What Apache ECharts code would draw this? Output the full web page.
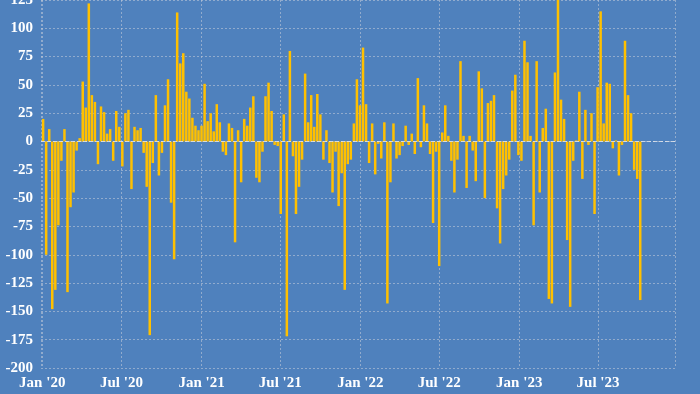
<!DOCTYPE html>
<html>
<head>
<meta charset="utf-8">
<script src="https://cdn.jsdelivr.net/npm/echarts@6/dist/echarts.min.js"></script>
<style>
html,body{margin:0;padding:0;background:#4f81bd;}
#chart{width:700px;height:394px;}
</style>
</head>
<body>
<div id="chart"></div>
<script>
// Weekly series start date and tick settings
var startDate = '2020-01-03';
var yTicks = [-200, -175, -150, -125, -100, -75, -50, -25, 0, 25, 50, 75, 100, 125];
var values = [
  20, -100, 11, -148, -131, -74, -17, 11, -133, -58,
  -45, -8, 3, 53, 30, 122, 41, 35, -20, 31,
  26, 7, 11, -17, 27, 13, -22, 25, 28, -42,
  13, 10, 12, -10, -40, -171, -19, 41, -30, -10,
  32, 55, -54, -104, 114, 69, 78, 44, 38, 21,
  14, 10, 14, 51, 18, 25, 9, 33, 17, -9,
  -12, 16, 12, -89, 10, -36, 20, 14, 30, 40,
  -32, -36, -9, 40, 52, 27, -3, -4, -64, 24,
  -172, 80, -13, -64, -40, -16, 60, 17, 41, 13,
  42, 24, -16, 10, -19, -45, -9, -57, -28, -131,
  -20, -16, 16, 55, 32, 83, 33, -19, 16, -29,
  -2, -15, 17, -143, -36, 16, -15, -12, -4, 14,
  -3, 7, -11, 56, -5, 32, 16, -11, -72, -9,
  -110, 8, 32, 5, -17, -45, -16, 71, 5, -41,
  5, -8, -35, 62, 47, -50, 34, 36, 41, -59,
  -90, -42, -30, -16, 45, 59, -12, -17, 89, 70,
  5, -74, 71, -45, 12, 29, -139, -143, 61, 128,
  37, 20, -87, -146, -17, 1, 44, -33, 28, -3,
  25, -64, 48, 115, 16, 52, 51, -6, 1, -30,
  -3, 89, 41, 25, -25, -33, -140
];
var monthNames = ['Jan','Feb','Mar','Apr','May','Jun','Jul','Aug','Sep','Oct','Nov','Dec'];

var DAY = 24 * 3600 * 1000;
var t0 = Date.parse(startDate + 'T00:00:00Z');
var data = values.map(function (v, i) { return [t0 + i * 7 * DAY, v]; });

var chart = echarts.init(document.getElementById('chart'));
var fontFam = '"Liberation Serif", "DejaVu Serif", serif';
var gridLine = { color: 'rgba(190,200,215,0.6)', type: [2, 2], width: 1 };
chart.setOption({
  backgroundColor: '#4f81bd',
  animation: false,
  grid: { left: 41, right: 25, top: 0, bottom: 26, containLabel: false, outerBoundsMode: 'none' },
  xAxis: {
    type: 'time',
    min: Date.parse('2020-01-01T00:00:00Z'),
    max: Date.parse('2023-12-22T00:00:00Z'),
    minInterval: 180 * DAY,
    maxInterval: 185 * DAY,
    splitNumber: 8,
    axisLine: { show: false },
    axisTick: { show: false },
    axisLabel: {
      color: '#ffffff', fontFamily: fontFam, fontWeight: 'bold', fontSize: 15,
      margin: 8,
      formatter: function (val) {
        var d = new Date(val);
        var m = d.getUTCMonth();
        var y = String(d.getUTCFullYear()).slice(2);
        if (d.getUTCDate() !== 1 || (m !== 0 && m !== 6)) return '';
        return monthNames[m] + " '" + y;
      }
    },
    splitLine: { show: true, lineStyle: gridLine }
  },
  yAxis: {
    type: 'value',
    min: -200, max: 125, interval: 25,
    axisLine: { show: false },
    axisTick: { show: false },
    axisLabel: {
      color: '#ffffff', fontFamily: fontFam, fontWeight: 'bold', fontSize: 15, margin: 8
    },
    splitLine: { show: true, lineStyle: gridLine }
  },
  series: [{
    type: 'bar',
    data: data,
    barWidth: 2.5,
    itemStyle: { color: '#ffc000' },
    markLine: {
      silent: true,
      symbol: 'none',
      label: { show: false },
      lineStyle: { color: 'rgba(225,228,235,0.85)', type: [4, 2], width: 1 },
      data: [{ yAxis: 0 }]
    }
  }]
});
</script>
</body>
</html>
